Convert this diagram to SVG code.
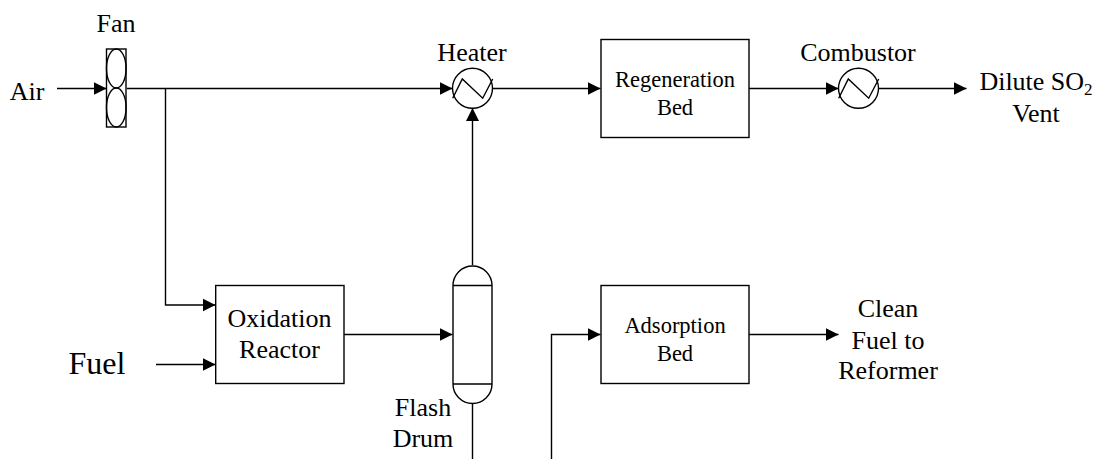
<svg xmlns="http://www.w3.org/2000/svg" width="1096" height="459" viewBox="0 0 1096 459">
<style>
.s{fill:none;stroke:#000;stroke-width:1.4}
.b{fill:#fff;stroke:#000;stroke-width:1.4}
text{font-family:"Liberation Serif","Times New Roman",serif;font-size:26px;fill:#000;text-anchor:middle}
.sm{font-size:22.500px}
</style>
<defs><marker id="a" markerUnits="userSpaceOnUse" markerWidth="14" markerHeight="14" refX="13" refY="7" orient="auto"><path d="M0 0.500L13 7L0 13.500Z" fill="#000"/></marker></defs>
<rect width="1096" height="459" fill="#fff"/>
<g id="connectors" class="s">
<path d="M57 88.500H106.500" marker-end="url(#a)"/>
<path d="M127 88.500H452.500" marker-end="url(#a)"/>
<path d="M165.500 88.500V305H215.500" marker-end="url(#a)"/>
<path d="M156 364.500H215.500" marker-end="url(#a)"/>
<path d="M344 334.500H452.500" marker-end="url(#a)"/>
<path d="M472.500 265V108" marker-end="url(#a)"/>
<path d="M492.500 88.500H600.500" marker-end="url(#a)"/>
<path d="M749 88.500H838.500" marker-end="url(#a)"/>
<path d="M878.500 88.500H966.500" marker-end="url(#a)"/>
<path d="M472.500 403V459"/>
<path d="M551.500 459V334.500H600.500" marker-end="url(#a)"/>
<path d="M749 334.500H838.500" marker-end="url(#a)"/>
</g>
<g id="fan">
<rect class="b" x="106.500" y="49" width="19.500" height="78"/>
<ellipse class="s" cx="116.300" cy="68.500" rx="9.800" ry="19.500"/>
<ellipse class="s" cx="116.300" cy="107.500" rx="9.800" ry="19.500"/>
<text x="116" y="32">Fan</text>
</g>
<text id="air" x="27" y="100">Air</text>
<g id="heater">
<circle class="b" cx="472.500" cy="88.300" r="20"/>
<path class="s" d="M452.700 98.200L462.300 79L482.700 98.200L492.700 79"/>
<text x="472" y="60.500">Heater</text>
</g>
<g id="regeneration-bed">
<rect class="b" x="601" y="39.500" width="148" height="98"/>
<text class="sm" x="675" y="87">Regeneration</text>
<text class="sm" x="675" y="115">Bed</text>
</g>
<g id="combustor">
<circle class="b" cx="858.500" cy="88.300" r="20"/>
<path class="s" d="M838.700 98.200L848.300 79L868.700 98.200L878.700 79"/>
<text x="858" y="60.500">Combustor</text>
</g>
<g id="vent">
<text x="1036" y="90">Dilute SO<tspan font-size="17" dy="5">2</tspan></text>
<text x="1036" y="121.500">Vent</text>
</g>
<g id="oxidation-reactor">
<rect class="b" x="215.700" y="285.500" width="128.300" height="98"/>
<text x="279.500" y="327">Oxidation</text>
<text x="279.500" y="358">Reactor</text>
</g>
<text id="fuel" x="97" y="374" style="font-size:32px">Fuel</text>
<g id="flash-drum">
<path class="b" d="M453 285.500A19.500 19.500 0 0 1 492 285.500V384A19.500 19.500 0 0 1 453 384Z"/>
<path class="s" d="M453 285.500H492M453 384H492"/>
<text x="423" y="415.500">Flash</text>
<text x="423" y="446.500">Drum</text>
</g>
<g id="adsorption-bed">
<rect class="b" x="601" y="285.500" width="148" height="98"/>
<text class="sm" x="675" y="333">Adsorption</text>
<text class="sm" x="675" y="361">Bed</text>
</g>
<g id="clean-fuel">
<text x="888" y="317">Clean</text>
<text x="888" y="349">Fuel to</text>
<text x="888" y="379">Reformer</text>
</g>
</svg>
